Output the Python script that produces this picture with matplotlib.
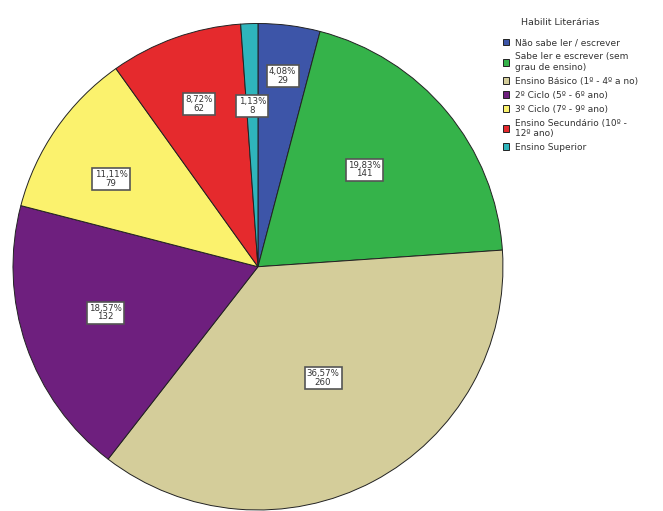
import numpy as np
import matplotlib
matplotlib.use("Agg")
import matplotlib.pyplot as plt

# Habilitações literárias (contagens)
categorias = ["Não sabe ler / escrever",
              "Sabe ler e escrever (sem\ngrau de ensino)",
              "Ensino Básico (1º - 4º a no)",
              "2º Ciclo (5º - 6º ano)",
              "3º Ciclo (7º - 9º ano)",
              "Ensino Secundário (10º -\n12º ano)",
              "Ensino Superior"]
contagens = [29, 141, 260, 132, 79, 62, 8]
percent_txt = ["4,08%", "19,83%", "36,57%", "18,57%", "11,11%", "8,72%", "1,13%"]
cores = ["#3d55a8", "#35b34a", "#d4cd9a", "#6e1f7e", "#fbf26d", "#e52a2d", "#2fb5bc"]
# posição das etiquetas: fração do raio e desvio angular (graus)
raio_etiq = [0.79, 0.59, 0.53, 0.65, 0.70, 0.71, 0.66]
desvio_ang = [0, 3, 2, -2, 3.5, 0, 0]

fig = plt.figure(figsize=(6.63, 5.11), dpi=100)
ax = fig.add_axes([0.0196, 0.002, 0.739, 0.952])

wedges, _ = ax.pie(contagens, colors=cores, startangle=90, counterclock=False,
                   wedgeprops=dict(edgecolor="#222222", linewidth=0.7))
ax.set_xlim(-1.0, 1.0)
ax.set_ylim(-1.0, 1.0)
ax.set_aspect("auto")
ax.axis("off")

total = sum(contagens)
ang = 90.0
for i, n in enumerate(contagens):
    span = 360.0 * n / total
    mid = np.deg2rad(ang - span / 2 + desvio_ang[i])
    ang -= span
    r = raio_etiq[i]
    x, y = r * np.cos(mid), r * np.sin(mid)
    ax.text(x, y, f"{percent_txt[i]}\n{n}", ha="center", va="center", fontsize=6.2,
            linespacing=0.95, color="#333333",
            bbox=dict(boxstyle="square,pad=0.25", facecolor="white",
                      edgecolor="#555555", linewidth=1.2))

fig.text(0.845, 0.955, "Habilit Literárias", ha="center", va="center",
         fontsize=6.8, color="#333333")
leg = fig.legend(wedges, categorias, loc="upper left",
                 bbox_to_anchor=(0.758, 0.925), frameon=False, fontsize=6.5,
                 handlelength=0.75, handleheight=0.75,
                 handletextpad=0.6, labelspacing=0.55, borderpad=0.0,
                 borderaxespad=0.0)
for t in leg.get_texts():
    t.set_color("#333333")

fig.savefig("out.png", dpi=100, facecolor="white")
